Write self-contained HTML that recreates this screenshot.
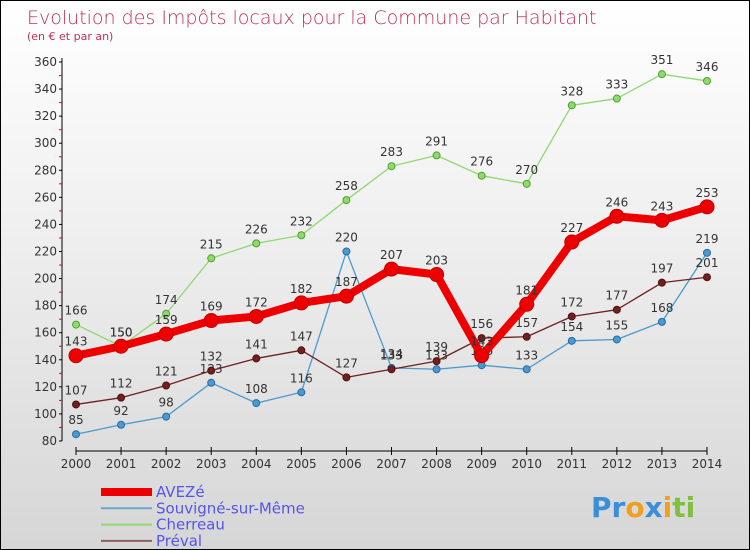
<!DOCTYPE html>
<html><head><meta charset="utf-8"><style>
body{margin:0}
#c{width:750px;height:550px;position:relative;overflow:hidden;box-sizing:border-box;border:1px solid #000;background:linear-gradient(#ffffff,#f0f0f0 40%,#d6d6d6);font-family:"DejaVu Sans","Liberation Sans",sans-serif}
</style></head><body>
<div id="c">
<svg id="s" width="750" height="550" style="position:absolute;left:0;top:0">
<text x="26" y="23" font-size="19" fill="#c0305a" font-family="DejaVu Sans,sans-serif" font-weight="200">Evolution des Impôts locaux pour la Commune par Habitant</text>
<text x="26" y="39" font-size="11" fill="#c0305a">(en € et par an)</text>
<g id="g"></g>
<text x="590" y="516" font-size="28" font-weight="bold"><tspan fill="#3a8fd8">Pr</tspan><tspan fill="#f0a020">o</tspan><tspan fill="#3a8fd8">x</tspan><tspan fill="#f0a020">i</tspan><tspan fill="#80c040">ti</tspan></text>
</svg>
</div>
<script>
const years=[2000,2001,2002,2003,2004,2005,2006,2007,2008,2009,2010,2011,2012,2013,2014];
const yTicks=[80,100,120,140,160,180,200,220,240,260,280,300,320,340,360];
const avezeValues=[143,150,159,169,172,182,187,207,203,143,181,227,246,243,253];
const souvigneValues=[85,92,98,123,108,116,220,134,133,136,133,154,155,168,219];
const cherreauValues=[166,150,174,215,226,232,258,283,291,276,270,328,333,351,346];
const prevalValues=[107,112,121,132,141,147,127,133,139,156,157,172,177,197,201];
const NS="http://www.w3.org/2000/svg";
const g=document.getElementById('g');
function X(i){return 75+i*(706-75)/(years.length-1);}
function Y(v){return 440-(v-80)*(440-61)/280;}
function el(t,a,p){const e=document.createElementNS(NS,t);for(const k in a)e.setAttribute(k,a[k]);(p||g).appendChild(e);return e;}
// axes
let a=el('line',{x1:61,y1:57,x2:61,y2:440,stroke:'#000'});
a=el('line',{x1:75,y1:450,x2:706,y2:450,stroke:'#000'});
yTicks.forEach((v,i)=>{el('line',{x1:58,y1:Y(v),x2:61,y2:Y(v),stroke:'#000'});
 if(i<yTicks.length-1)el('line',{x1:58,y1:Y(v+10),x2:61,y2:Y(v+10),stroke:'#e00'});
 const t=el('text',{x:56,y:Y(v)+4,'font-size':12,'text-anchor':'end',fill:'#333'});t.textContent=v;
 });
years.forEach((y,i)=>{el('line',{x1:X(i),y1:446,x2:X(i),y2:454,stroke:'#000'});
 const t=el('text',{x:X(i),y:467,'font-size':12,'text-anchor':'middle',fill:'#333'});t.textContent=y;
 });
function series(vals,color,w,r,name,stroke){
 const gg=el('g',{});
 el('polyline',{points:vals.map((v,i)=>X(i)+','+Y(v)).join(' '),fill:'none',stroke:color,'stroke-width':w,'stroke-linejoin':'round'},gg);
 vals.forEach((v,i)=>{const c=el('circle',{cx:X(i),cy:Y(v),r:r,fill:color,stroke:stroke,'stroke-width':1},gg);
  
  const t=el('text',{x:X(i),y:Y(v)-10,'font-size':12,'text-anchor':'middle',fill:'#333'},gg);t.textContent=v;
  });
}
series(cherreauValues,'#90d870',1.3,3.5,'cherreau','#50a030');
series(souvigneValues,'#4a9ad0',1.3,3.5,'souvigne','#2a6aa0');
series(prevalValues,'#702020',1.3,3.5,'preval','#501010');
series(avezeValues,'#ee0000',8,7,'aveze','#c00000');
const legend=[['AVEZé','#ee0000',8],['Souvigné-sur-Même','#6aa8d0',2],['Cherreau','#90d870',2],['Préval','#906060',2]];
legend.forEach((l,i)=>{const y=491+i*16.3;
 const gg=el('g',{});
 el('line',{x1:100,y1:y,x2:151,y2:y,stroke:l[1],'stroke-width':l[2]},gg);
 const t=el('text',{x:155,y:y+5,'font-size':15,fill:'#5555ee'},gg);t.textContent=l[0];});
</script>
</body></html>
